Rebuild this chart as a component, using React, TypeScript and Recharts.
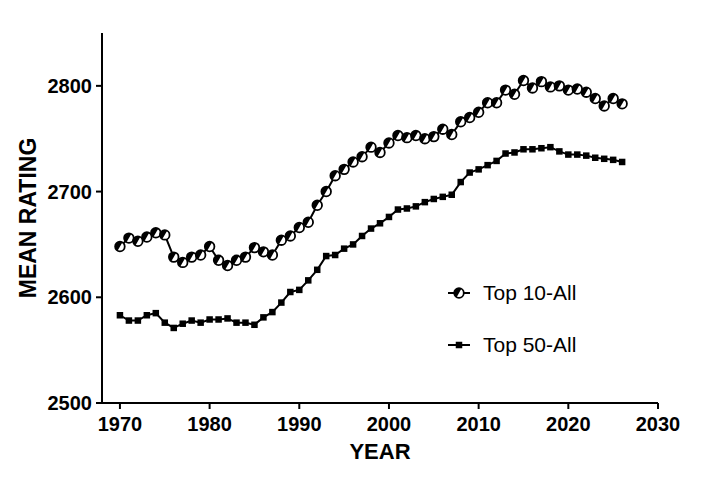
import React from "react";
import { LineChart, Line, XAxis, YAxis, Legend, Label } from "recharts";

const years = [
  1970, 1971, 1972, 1973, 1974, 1975, 1976, 1977, 1978, 1979,
  1980, 1981, 1982, 1983, 1984, 1985, 1986, 1987, 1988, 1989,
  1990, 1991, 1992, 1993, 1994, 1995, 1996, 1997, 1998, 1999,
  2000, 2001, 2002, 2003, 2004, 2005, 2006, 2007, 2008, 2009,
  2010, 2011, 2012, 2013, 2014, 2015, 2016, 2017, 2018, 2019,
  2020, 2021, 2022, 2023, 2024, 2025, 2026,
];

const top10All = [
  2648, 2656, 2653, 2657, 2661, 2659, 2638, 2633, 2638, 2640,
  2648, 2635, 2630, 2635, 2638, 2647, 2643, 2640, 2654, 2658,
  2666, 2671, 2687, 2700, 2715, 2721, 2728, 2733, 2742, 2737,
  2746, 2753, 2751, 2753, 2750, 2752, 2759, 2754, 2766, 2770,
  2775, 2784, 2784, 2796, 2792, 2805, 2798, 2804, 2799, 2800,
  2796, 2797, 2794, 2788, 2781, 2788, 2783,
];

const top50All = [
  2583, 2578, 2578, 2583, 2585, 2576, 2571, 2575, 2578, 2576,
  2579, 2579, 2580, 2576, 2576, 2574, 2581, 2586, 2595, 2605,
  2607, 2616, 2626, 2639, 2640, 2646, 2650, 2658, 2665, 2670,
  2676, 2683, 2684, 2686, 2690, 2693, 2695, 2697, 2709, 2718,
  2721, 2725, 2729, 2736, 2737, 2740, 2740, 2741, 2742, 2738,
  2735, 2735, 2734, 2732, 2731, 2730, 2728,
];

const xTicks = [1970, 1980, 1990, 2000, 2010, 2020, 2030];
const yTicks = [2500, 2600, 2700, 2800];

const seriesNames = ["Top 10-All", "Top 50-All"];

const data = years.map((y, i) => ({ year: y, top10: top10All[i], top50: top50All[i] }));

const FONT = '"Liberation Sans", Arial, Helvetica, sans-serif';

const HalfCircle = (props: any) => {
  const { cx, cy } = props;
  if (cx == null || cy == null) return null;
  const r = 4.8;
  const a = -Math.PI / 3;
  return (
    <g>
      <circle cx={cx} cy={cy} r={r} fill="#fff" stroke="#000" strokeWidth={1.8} />
      <path
        d={`M ${cx + r * Math.cos(a)} ${cy + r * Math.sin(a)} A ${r} ${r} 0 0 0 ${cx - r * Math.cos(a)} ${cy - r * Math.sin(a)} Z`}
        fill="#000"
      />
    </g>
  );
};

const SquareDot = (props: any) => {
  const { cx, cy } = props;
  if (cx == null || cy == null) return null;
  const s = 6.5;
  return <rect x={cx - s / 2} y={cy - s / 2} width={s} height={s} fill="#000" />;
};

const LegendContent = () => (
  <div style={{ fontFamily: FONT, fontSize: 21, color: "#000" }}>
    {seriesNames.map((name, i) => (
      <div key={name} style={{ display: "flex", alignItems: "center", height: 26, marginBottom: i === 0 ? 26 : 0 }}>
        <svg width={24} height={20} style={{ display: "block" }}>
          <line x1={0} y1={10} x2={22} y2={10} stroke="#000" strokeWidth={2} />
          {i === 0 ? <HalfCircle cx={11} cy={10} /> : <SquareDot cx={11} cy={10} />}
        </svg>
        <span style={{ marginLeft: 11, lineHeight: "26px" }}>{name}</span>
      </div>
    ))}
  </div>
);

const YLabel = (props: any) => {
  const vb = props.viewBox || {};
  const cx = vb.x - 14;
  const cy = vb.y + vb.height / 2;
  return (
    <text
      x={cx}
      y={cy}
      transform={`rotate(-90, ${cx}, ${cy})`}
      textAnchor="middle"
      dominantBaseline="central"
      fontFamily={FONT}
      fontWeight="bold"
      fontSize={23}
      fill="#000"
    >
      MEAN RATING
    </text>
  );
};

const XLabel = (props: any) => {
  const vb = props.viewBox || {};
  const cx = vb.x + vb.width / 2;
  const cy = vb.y + 48;
  return (
    <text
      x={cx}
      y={cy}
      textAnchor="middle"
      dominantBaseline="central"
      fontFamily={FONT}
      fontWeight="bold"
      fontSize={22}
      fill="#000"
    >
      YEAR
    </text>
  );
};

export default function App() {
  return (
    <div style={{ position: "absolute", left: 0, top: 0, width: 720, height: 479, background: "#fff" }}>
      <LineChart
        width={720}
        height={479}
        data={data}
        margin={{ top: 33, right: 62, bottom: 36, left: 42 }}
      >
        <XAxis
          dataKey="year"
          type="number"
          domain={[1968, 2030]}
          ticks={xTicks}
          allowDataOverflow
          stroke="#000"
          strokeWidth={2}
          tickSize={6}
          tickMargin={8}
          height={40}
          tick={{ fill: "#000", fontSize: 20, fontWeight: "bold", fontFamily: FONT }}
          tickLine={{ stroke: "#000", strokeWidth: 2 }}
        >
          <Label content={<XLabel />} />
        </XAxis>
        <YAxis
          type="number"
          domain={[2500, 2850]}
          ticks={yTicks}
          allowDataOverflow
          stroke="#000"
          strokeWidth={2}
          tickSize={6}
          tickMargin={4}
          width={60}
          tick={{ fill: "#000", fontSize: 20, fontWeight: "bold", fontFamily: FONT }}
          tickLine={{ stroke: "#000", strokeWidth: 2 }}
        >
          <Label content={<YLabel />} />
        </YAxis>
        <Legend
          layout="horizontal"
          verticalAlign="middle"
          align="center"
          content={<LegendContent />}
          wrapperStyle={{ position: "absolute", left: 448, top: 280, width: 200 }}
        />
        <Line
          dataKey="top10"
          name={seriesNames[0]}
          stroke="#000"
          strokeWidth={2}
          dot={<HalfCircle />}
          activeDot={false}
          isAnimationActive={false}
        />
        <Line
          dataKey="top50"
          name={seriesNames[1]}
          stroke="#000"
          strokeWidth={2}
          dot={<SquareDot />}
          activeDot={false}
          isAnimationActive={false}
        />
      </LineChart>
    </div>
  );
}
